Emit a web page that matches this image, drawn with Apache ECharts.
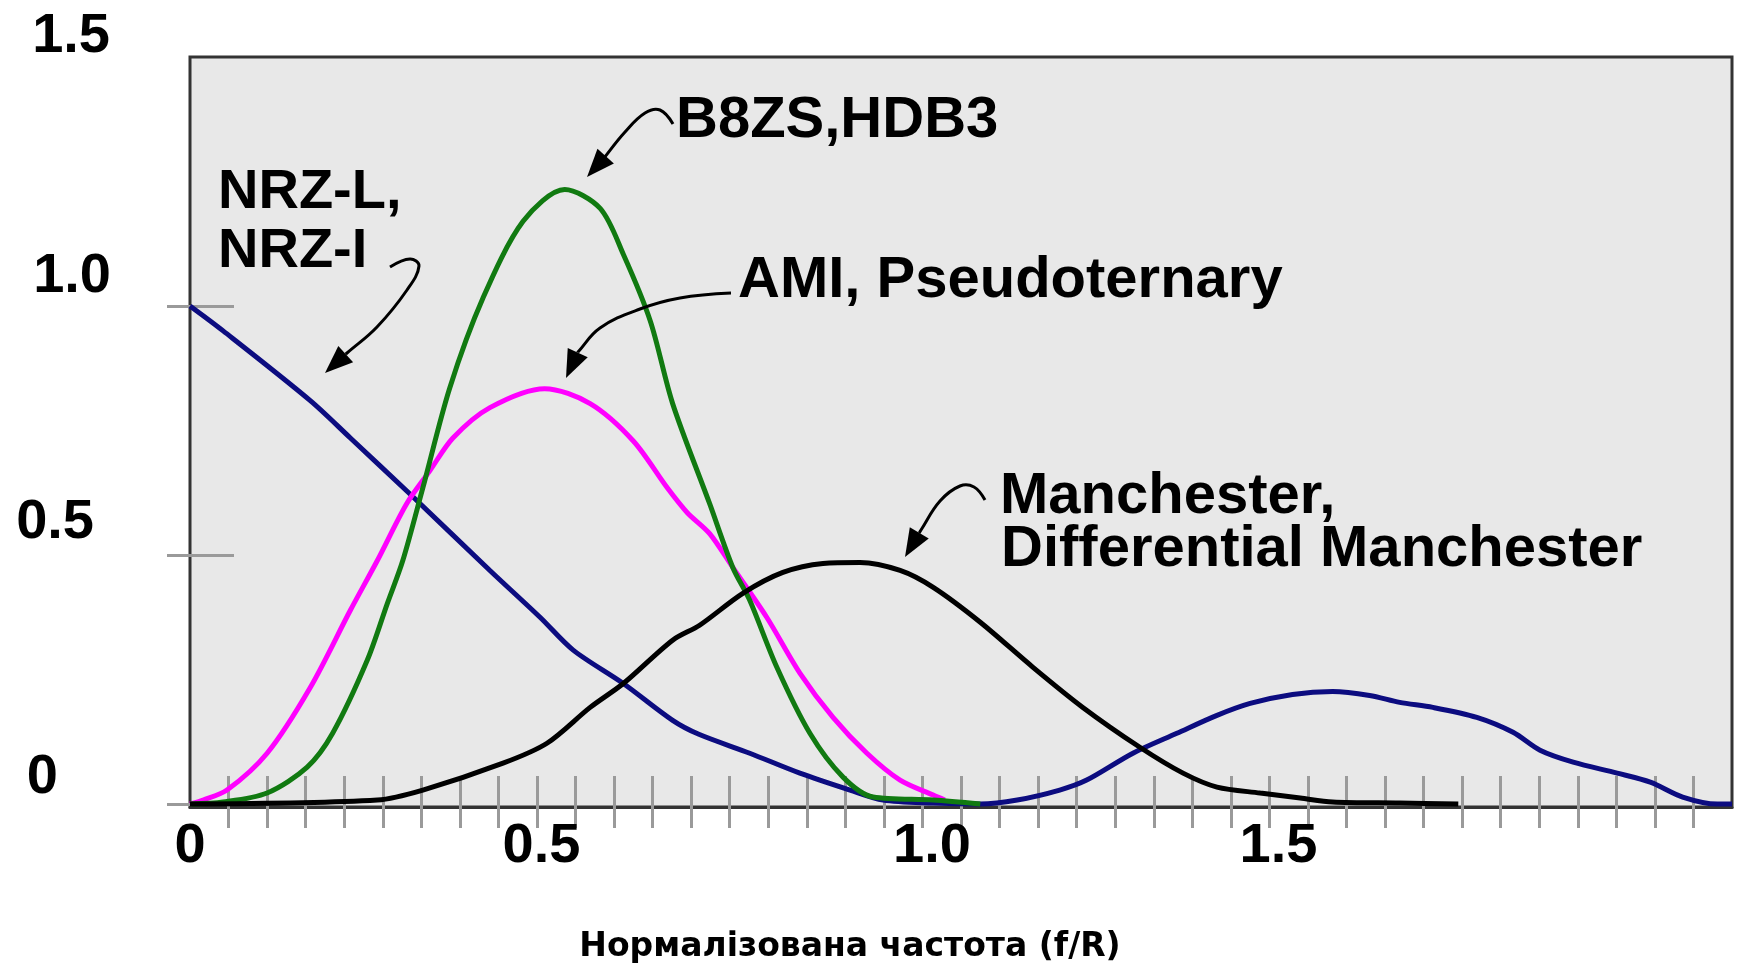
<!DOCTYPE html>
<html><head><meta charset="utf-8">
<script src="https://cdn.jsdelivr.net/npm/echarts@6/dist/echarts.min.js"></script>
<style>html,body{margin:0;padding:0;background:#fff}#c{width:1742px;height:966px}</style>
</head><body><div id="c"></div>
<script>
// ---- data: [f/R, normalized power] ----
const nrzData = [[0,1.0],[0.043,0.95],[0.156,0.81],[0.208,0.735],[0.285,0.623],[0.389,0.469],[0.454,0.375],[0.497,0.309],[0.562,0.242],[0.626,0.168],[0.66,0.14],[0.726,0.102],[0.791,0.062],[0.856,0.028],[0.899,0.008],[0.964,0.002],[1.025,0],[1.073,0.008],[1.128,0.028],[1.163,0.048],[1.223,0.102],[1.28,0.142],[1.332,0.178],[1.375,0.202],[1.43,0.22],[1.482,0.226],[1.53,0.218],[1.569,0.204],[1.612,0.194],[1.669,0.174],[1.716,0.144],[1.751,0.108],[1.794,0.084],[1.851,0.062],[1.894,0.044],[1.936,0.014],[1.981,0],[2.0,0]];
const amiData = [[0,0],[0.017,0.008],[0.048,0.028],[0.1,0.102],[0.156,0.234],[0.208,0.389],[0.243,0.489],[0.281,0.603],[0.311,0.669],[0.341,0.735],[0.389,0.796],[0.46,0.834],[0.519,0.804],[0.575,0.729],[0.619,0.635],[0.645,0.585],[0.674,0.543],[0.704,0.475],[0.748,0.375],[0.791,0.263],[0.834,0.174],[0.878,0.102],[0.921,0.048],[0.964,0.018],[0.979,0.008]];
const b8zsData = [[0,0],[0.043,0.004],[0.1,0.022],[0.152,0.074],[0.185,0.142],[0.23,0.289],[0.256,0.403],[0.276,0.489],[0.302,0.635],[0.337,0.836],[0.38,1.016],[0.432,1.17],[0.486,1.234],[0.532,1.196],[0.562,1.104],[0.597,0.97],[0.626,0.804],[0.674,0.603],[0.704,0.475],[0.726,0.409],[0.761,0.275],[0.804,0.142],[0.847,0.054],[0.886,0.014],[0.964,0.008],[1.025,0]];
const manchesterData = [[0,0],[0.243,0.008],[0.302,0.028],[0.406,0.082],[0.463,0.122],[0.519,0.194],[0.562,0.242],[0.626,0.329],[0.661,0.359],[0.717,0.423],[0.769,0.465],[0.821,0.483],[0.869,0.485],[0.921,0.469],[0.964,0.435],[1.025,0.365],[1.093,0.275],[1.158,0.194],[1.232,0.114],[1.288,0.062],[1.332,0.034],[1.388,0.022],[1.44,0.012],[1.482,0.004],[1.569,0.002],[1.645,0]];

const xTickValues = [0, 0.5, 1.0, 1.5];
const xTickLabels = ['0', '0.5', '1.0', '1.5'];
const yTickValues = [0, 0.5, 1.0, 1.5];
const yTickLabels = ['0', '0.5', '1.0', '1.5'];
const xTitle = 'Нормалізована частота (f/R)';
const labelNRZ = ['NRZ-L,', 'NRZ-I'];
const labelB8ZS = ['B8ZS,HDB3'];
const labelAMI = ['AMI, Pseudoternary'];
const labelManchester = ['Manchester,', 'Differential Manchester'];

// ---- layout / style ----
const minorTicks = [];
for (let k = 1; k < 40; k++) minorTicks.push(+(k * 0.05).toFixed(2));

const chart = echarts.init(document.getElementById('c'), null, {renderer: 'canvas'});
const tickFont = {fontFamily: '"Liberation Sans", Arial, sans-serif', fontWeight: 'bold', fontSize: 56, color: '#000', lineHeight: 56};
// per-label nudges (the original labels sit off their ticks)
const xShift = [0, 34, 29, 68];
const yRight = [53, 17, 0, 1];
const yUp = [26, 32, 29, 20];
const xRich = {}, yRich = {};
xTickValues.forEach((v, i) => { xRich['x' + i] = Object.assign({}, tickFont, {padding: [0, 2 * xShift[i], 0, 0]}); });
yTickValues.forEach((v, i) => { yRich['y' + i] = Object.assign({}, tickFont, {padding: [0, yRight[i], 2 * yUp[i], 0]}); });

const grayTick = {color: '#9a9a9a', width: 3};
const xBase = {type: 'value', min: 0, max: 2.0, position: 'bottom', splitLine: {show: false}};
const yBase = {type: 'value', min: -0.006, max: 1.5, position: 'left', splitLine: {show: false}};

const option = {
  backgroundColor: '#ffffff',
  animation: false,
  grid: {left: 190, right: 10, top: 57, bottom: 159, show: true, backgroundColor: '#e8e8e8', borderColor: '#333', borderWidth: 3},
  xAxis: [
    Object.assign({}, xBase, {
      axisLine: {show: true, onZero: false, lineStyle: {color: '#333', width: 3}},
      axisTick: {show: true, inside: true, length: 31, lineStyle: grayTick, customValues: minorTicks},
      axisLabel: {show: true, customValues: xTickValues, margin: 40, verticalAlign: 'middle',
        formatter: v => { const i = xTickValues.findIndex(t => Math.abs(t - v) < 1e-6); return '{x' + i + '|' + xTickLabels[i] + '}'; },
        rich: xRich}
    }),
    Object.assign({}, xBase, {
      axisLine: {show: false, onZero: false},
      axisTick: {show: true, inside: false, length: 21, lineStyle: grayTick, customValues: minorTicks},
      axisLabel: {show: false}
    })
  ],
  yAxis: [
    Object.assign({}, yBase, {
      axisLine: {show: false},
      axisTick: {show: true, inside: false, length: 23, lineStyle: grayTick, customValues: [0, 0.5, 1.0]},
      axisLabel: {show: true, customValues: yTickValues, margin: 79, align: 'right', verticalAlign: 'middle',
        formatter: v => { const i = yTickValues.findIndex(t => Math.abs(t - v) < 1e-6); return '{y' + i + '|' + yTickLabels[i] + '}'; },
        rich: yRich}
    }),
    Object.assign({}, yBase, {
      axisLine: {show: false},
      axisTick: {show: true, inside: true, length: 44, lineStyle: grayTick, customValues: [0, 0.5, 1.0]},
      axisLabel: {show: false}
    })
  ],
  series: [
    {name: 'NRZ', type: 'line', data: nrzData, smooth: 0.3, showSymbol: false, lineStyle: {color: '#0c0c80', width: 5}, z: 3},
    {name: 'AMI', type: 'line', data: amiData, smooth: 0.3, showSymbol: false, lineStyle: {color: '#ff00ff', width: 5}, z: 4},
    {name: 'B8ZS', type: 'line', data: b8zsData, smooth: 0.3, showSymbol: false, lineStyle: {color: '#117a11', width: 5}, z: 5},
    {name: 'Manchester', type: 'line', data: manchesterData, smooth: 0.3, showSymbol: false, lineStyle: {color: '#000000', width: 5}, z: 6}
  ]
};
chart.setOption(option);

// ---- annotations (text + curved arrows) ----
function txt(s, x, y, size) {
  return {type: 'text', z: 100, style: {text: s, x: x, y: y, font: 'bold ' + size + 'px "Liberation Sans", Arial, sans-serif', fill: '#000', align: 'left', verticalAlign: 'middle', textAlign: 'left', textVerticalAlign: 'middle'}};
}
function arrow(pts) {
  const n = pts.length, tx = pts[n - 1][0], ty = pts[n - 1][1], px = pts[n - 2][0], py = pts[n - 2][1];
  const a = Math.atan2(ty - py, tx - px), L = 28, W = 11;
  const bx = tx - L * Math.cos(a), by = ty - L * Math.sin(a);
  const nx = -Math.sin(a), ny = Math.cos(a);
  return [
    {type: 'polyline', z: 100, shape: {points: pts.slice(0, n - 1).concat([[bx, by]]), smooth: 0.4}, style: {stroke: '#000', lineWidth: 3, fill: null}},
    {type: 'polygon', z: 100, shape: {points: [[tx, ty], [bx + nx * W, by + ny * W], [bx - nx * W, by - ny * W]]}, style: {fill: '#000'}}
  ];
}
const g = [];
g.push(txt(labelNRZ[0], 218, 193, 56), txt(labelNRZ[1], 218, 252, 56));
g.push(txt(labelB8ZS[0], 676, 121, 58));
g.push(txt(labelAMI[0], 738, 281, 58));
g.push(txt(labelManchester[0], 1000, 497, 58), txt(labelManchester[1], 1001, 550, 58));
g.push.apply(g, arrow([[390, 267], [410, 259], [419, 266], [407, 290], [377, 327], [347, 353], [325, 373]]));
g.push.apply(g, arrow([[673, 124], [660, 110], [645, 113], [625, 132], [604, 158], [587, 177]]));
g.push.apply(g, arrow([[731, 293], [680, 298], [640, 309], [600, 328], [578, 352], [566, 378]]));
g.push.apply(g, arrow([[985, 500], [974, 487], [960, 486], [940, 501], [921, 530], [905, 557]]));
g.push({type: 'text', z: 100, style: {text: xTitle, x: 850, y: 947, font: 'bold 33px "DejaVu Sans", Verdana, sans-serif', fill: '#000', align: 'center', verticalAlign: 'middle', textAlign: 'center', textVerticalAlign: 'middle'}});
chart.setOption({graphic: g});
</script></body></html>
